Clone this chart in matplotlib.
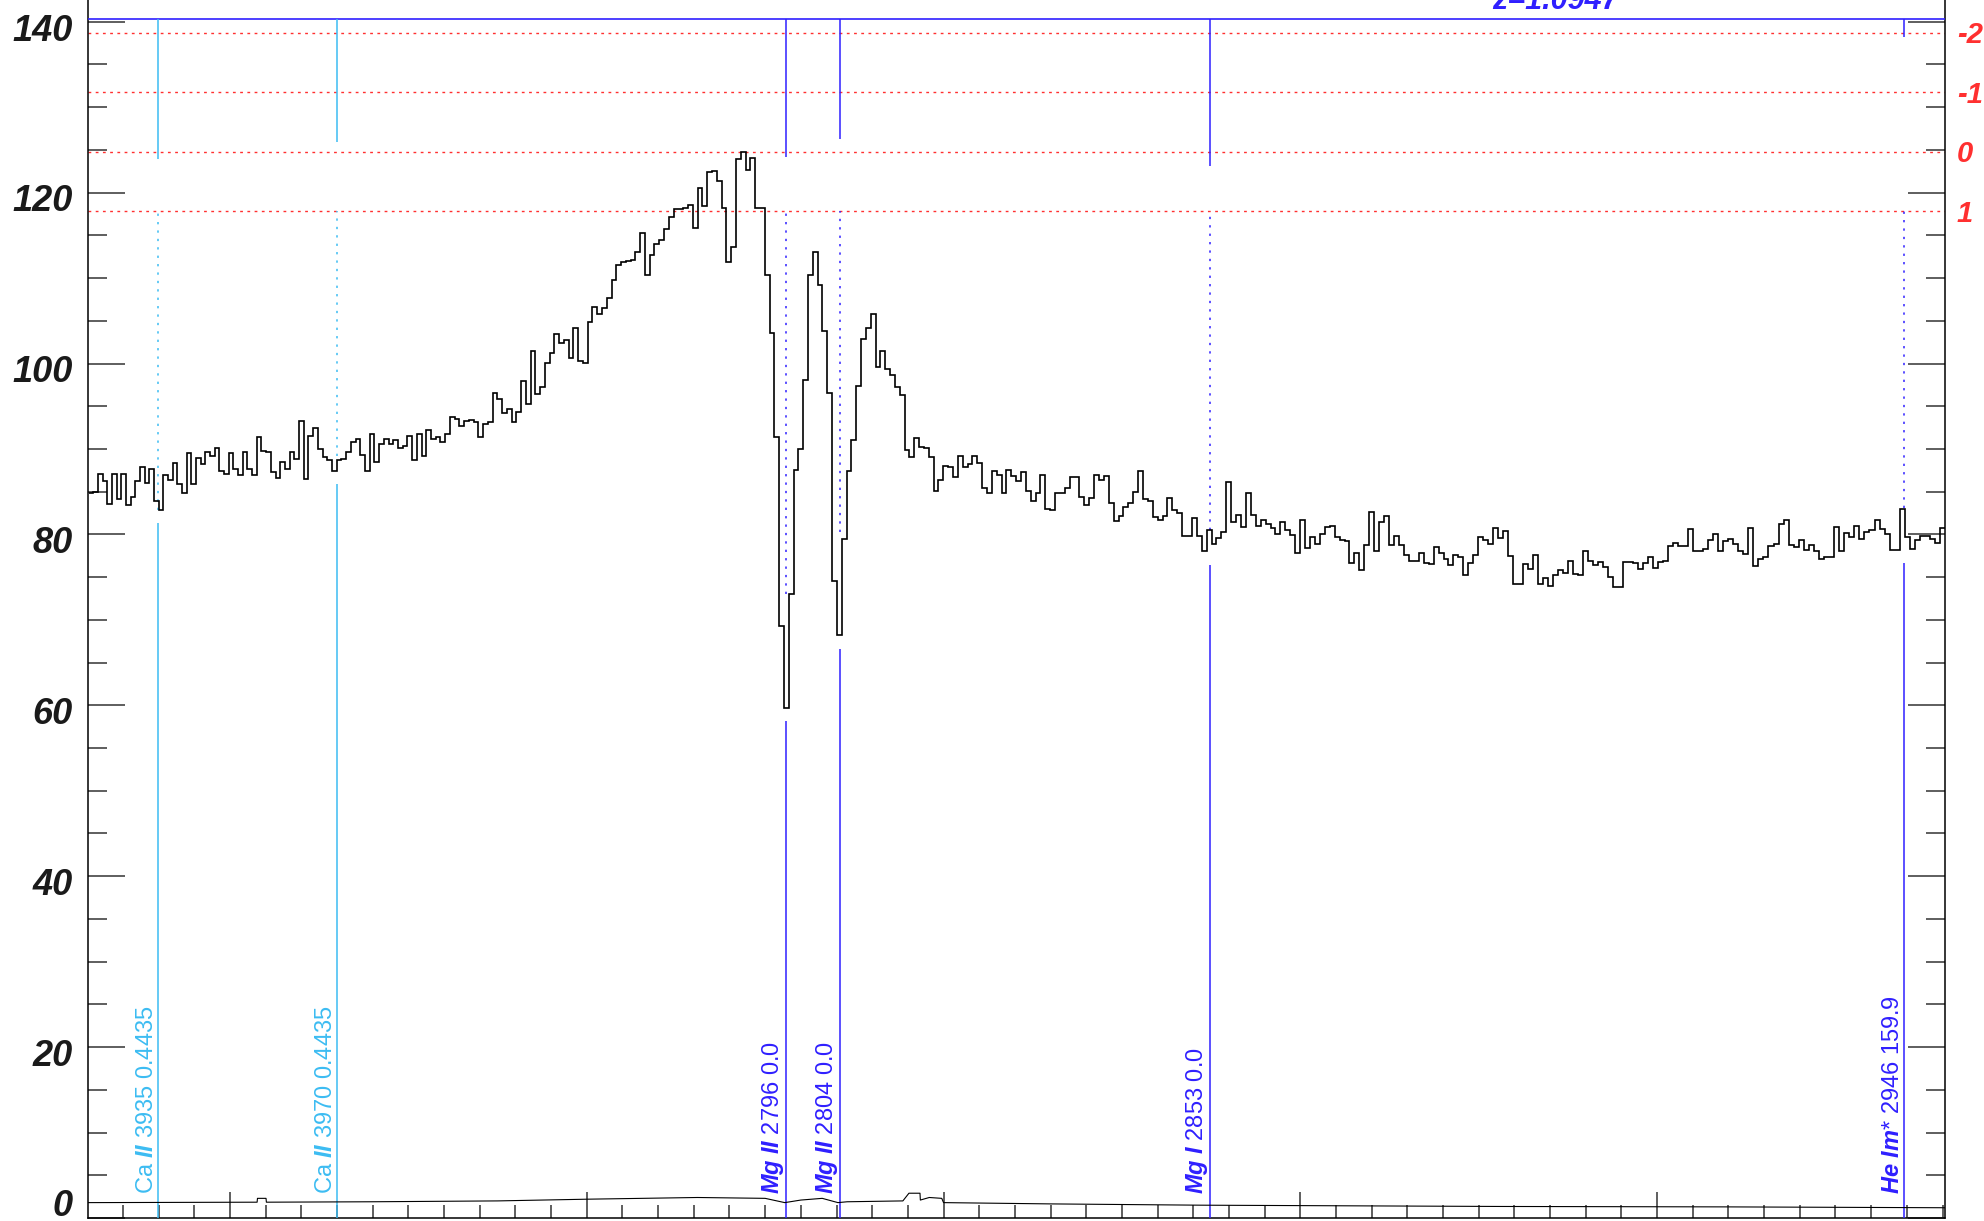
import numpy as np
import matplotlib
matplotlib.use("Agg")
import matplotlib.pyplot as plt
from matplotlib.ticker import MultipleLocator
import matplotlib.transforms as mtransforms

plt.rcParams['font.family'] = ['Liberation Sans', 'DejaVu Sans']
plt.rcParams['mathtext.fontset'] = 'custom'
plt.rcParams['mathtext.rm'] = 'Liberation Sans'
plt.rcParams['mathtext.it'] = 'Liberation Sans:italic'
plt.rcParams['mathtext.bf'] = 'Liberation Sans:bold'
try:
    plt.rcParams['mathtext.bfit'] = 'Liberation Sans:italic:bold'
    BFIT = r'\mathbfit'
except KeyError:
    BFIT = r'\mathit'

# ---------------- data ----------------
wl_start = 5660.4      # first bin edge (Angstrom)
dlog = 1e-4            # log10 bin width

flux_a = [84.8, 85.0, 87.1, 86.2, 83.5, 87.1, 84.2, 87.1, 83.4, 84.4,
          86.2, 87.9, 86.0, 87.7, 83.9, 82.9, 86.9, 86.4, 88.4, 85.9,
          84.9, 89.5, 85.9, 88.9, 88.2, 89.7, 89.2, 90.1, 87.4, 87.1,
          89.5, 87.7, 86.9, 89.7, 87.7, 86.9, 91.4, 89.8, 89.7, 87.3,
          86.6, 88.5, 87.7, 89.7, 88.8, 93.3, 86.5, 91.5, 92.4, 90.0,
          89.0, 88.7, 87.4, 88.7, 88.8, 89.7, 90.8, 91.2, 89.3, 87.4,
          91.8, 88.5, 90.6, 91.2, 90.6, 91.0, 90.1, 90.4, 91.5, 88.7,
          91.7, 89.2, 92.2, 91.2, 91.4, 90.8, 91.7, 93.7, 93.5, 92.7,
          93.3, 93.4]
flux_b = [93.2, 91.4, 92.9, 93.1, 96.5, 95.8, 94.2, 94.7, 93.2, 94.3,
          98.0, 95.3, 101.5, 96.4, 97.3, 100.1, 101.2, 103.4, 102.4, 102.8,
          100.6, 104.2, 100.3, 100.1, 104.9, 106.6, 105.8, 106.5, 107.7, 109.8,
          111.5, 111.9, 112.0, 112.1, 113.1, 115.3, 110.3, 112.7, 114.0, 114.4,
          115.7, 117.2, 118.1, 118.1, 118.2, 118.6, 115.8, 120.5, 118.4, 122.4,
          122.5, 121.3, 118.2, 111.9, 113.6, 123.9, 124.8, 122.7, 124.0, 118.2,
          118.2, 110.4, 103.6, 91.4, 69.3, 59.7, 73.0, 87.5, 90.0, 98.1,
          110.3, 113.1, 109.2, 103.8, 96.6, 74.5, 68.2]
flux_c = [79.5, 87.4, 91.1, 97.4, 102.9, 104.1, 105.8, 99.6, 101.5, 99.3,
          98.7, 97.2, 96.3, 89.9, 89.1, 91.3, 90.2, 90.1, 89.0, 85.1,
          86.4, 88.0, 87.9, 86.7, 89.2, 87.9, 88.2, 89.2, 88.3, 85.4,
          84.9, 87.4, 87.0, 84.9, 87.5, 86.8, 86.2, 87.3, 85.1, 83.9,
          84.9, 86.9, 83.0, 82.8, 84.9, 84.8, 85.4, 86.7, 86.7, 84.4,
          83.4, 84.3, 86.9, 86.4, 86.8, 83.7, 81.6, 82.1, 83.2, 83.7,
          85.0, 87.4, 84.1, 83.9, 82.0, 81.7, 82.1, 84.3, 82.8, 82.5,
          79.8, 79.8, 81.9, 79.8, 78.0, 80.5, 78.9, 79.6, 80.3]
flux_d = [86.1, 81.5, 82.3, 80.9, 84.9, 82.3, 81.0, 81.7, 81.2, 80.7,
          80.1, 81.5, 80.5, 79.9, 77.8, 81.7, 78.4, 79.7, 78.9, 80.0,
          80.9, 81.0, 79.7, 79.4, 79.2, 76.6, 77.8, 75.8, 78.8, 82.6,
          78.1, 81.5, 82.1, 78.8, 79.8, 78.8, 77.6, 76.9, 76.9, 77.8,
          76.7, 76.5, 78.5, 77.8, 77.1, 76.4, 77.6, 77.4, 75.3, 76.7,
          77.6, 79.7, 79.4, 78.9, 80.7, 79.6, 80.4, 77.5, 74.2, 74.2,
          76.5, 75.9, 77.6, 74.2, 74.9, 74.0, 75.3, 75.8, 75.5, 76.9,
          75.4, 75.3, 78.0]
flux_e = [76.9, 76.4, 76.8, 76.2, 75.0, 73.9, 73.9, 76.8, 76.8, 76.6,
          75.9, 76.6, 77.4, 76.1, 76.8, 76.9, 78.6, 79.0, 78.6, 78.6,
          80.6, 78.1, 78.1, 78.3, 79.3, 80.0, 78.0, 79.2, 79.5, 78.9,
          78.0, 77.7, 80.7, 76.3, 77.1, 77.4, 78.7, 78.9, 81.2, 81.7,
          78.8, 78.5, 79.3, 78.2, 78.8, 78.0, 77.1, 77.4, 77.4, 80.9,
          78.0, 80.2, 79.7, 81.0, 79.5, 80.3, 80.5, 81.7, 80.6, 80.1,
          78.2, 78.2, 83.0, 79.7, 78.3, 79.3, 79.8, 79.8, 79.5, 79.0,
          80.7]

err_wl = [5660.2, 5707.6, 5707.7, 5710.1, 5710.2, 5740.0, 5775.0, 5800.0, 5831.0,
          5850.0, 5855.5, 5860.0, 5866.0, 5870.4, 5873.0, 5888.6, 5890.3, 5893.4,
          5893.5, 5896.0, 5899.5, 5900.0, 5930.0, 5972.0, 6056.0, 6120.0, 6180.7]
err_val = [1.8, 1.85, 2.3, 2.3, 1.85, 1.9, 2.0, 2.2, 2.4,
           2.3, 1.8, 2.1, 2.3, 1.8, 1.9, 2.0, 2.9, 2.9,
           2.1, 2.4, 2.3, 1.8, 1.65, 1.5, 1.35, 1.3, 1.2]

sigma_levels = [138.7, 131.75, 124.8, 117.85]
sigma_labels = ['-2', '-1', '0', '1']

line_wl = [5679.7, 5730.1, 5855.9, 5871.0, 5974.7, 6169.3]
line_names = ['Ca II', 'Ca II', 'Mg II', 'Mg II', 'Mg I', 'He Im*']
line_rest = ['3935', '3970', '2796', '2804', '2853', '2946']
line_zval = ['0.4435', '0.4435', '0.0', '0.0', '0.0', '159.9']
line_system = ['ca', 'ca', 'mg', 'mg', 'mg', 'mg']
line_top_end = [123.9, 125.9, 124.2, 126.3, 123.1, 138.2]
line_dot_start = [117.85, 117.85, 117.85, 117.85, 117.85, 117.85]
line_dot_end = [82.8, 89.2, 73.0, 80.3, 80.5, 83.1]
line_low_start = [81.3, 85.9, 58.2, 66.6, 76.4, 76.7]

top_marker_level = 140.35
z_text = 'z=1.0947'
z_text_wl = 6071.4

ytick_vals = [0, 20, 40, 60, 80, 100, 120, 140]

# ---------------- figure ----------------
W, H = 1984, 1221
fig = plt.figure(figsize=(W / 100, H / 100), dpi=100)
ax_left, ax_right, ax_bottom = 88, 1945, 1218
ymax = 145.0
px_per_unit = 8.545
ax_h_px = ymax * px_per_unit
ax = fig.add_axes([ax_left / W, (H - ax_bottom) / H, (ax_right - ax_left) / W, ax_h_px / H])
ax.set_xlim(5660.2, 6180.7)
ax.set_ylim(0, ymax)

flux = np.concatenate([flux_a, flux_b, flux_c, flux_d, flux_e])
edges = wl_start * 10 ** (dlog * np.arange(len(flux) + 1))
ax.stairs(flux, edges, baseline=None, color='black', lw=1.2, zorder=5)

ax.plot(err_wl, err_val, color='black', lw=0.8, zorder=5)

red = '#ff3030'
for lev in sigma_levels:
    ax.axhline(lev, color=red, lw=1.0, linestyle=(0, (2, 3.2)), zorder=2)

blue = '#2f1fff'
cyan = '#3cbcf2'
ax.axhline(top_marker_level, color=blue, lw=1.2, zorder=3)

colors = {'ca': cyan, 'mg': blue}
for i, wl in enumerate(line_wl):
    c = colors[line_system[i]]
    ax.vlines(wl, line_top_end[i], top_marker_level, color=c, lw=1.1, zorder=3)
    ax.vlines(wl, line_dot_end[i], line_dot_start[i], color=c, lw=1.1,
              linestyle=(0, (1.5, 4)), zorder=3)
    ax.vlines(wl, 0, line_low_start[i], color=c, lw=1.1, zorder=3)
    nm = line_names[i].replace(' ', r'\ ')
    if line_system[i] == 'ca':
        el, ion = line_names[i].split(' ')
        lab = el + r' $' + BFIT + '{' + ion + '}$ ' + line_rest[i] + ' ' + line_zval[i]
    else:
        lab = r'$' + BFIT + '{' + nm.replace('*', '') + '}$' + ('*' if '*' in nm else '') + ' ' + line_rest[i] + ' ' + line_zval[i]
    ax.text(wl, 2.8, lab, rotation=90, ha='right', va='bottom', color=c,
            fontsize=17, zorder=6)

# z label (cut at top of figure, as in the reference)
ax.text(z_text_wl, 141.5, z_text, ha='center', va='baseline', color=blue,
        fontsize=22, fontweight='bold', fontstyle='italic')

# y tick labels (manual)
trans = mtransforms.blended_transform_factory(ax.transAxes, ax.transData)
dx_lab = -15 / (ax_right - ax_left)
for v in ytick_vals:
    if v > 0:
        ax.text(dx_lab, v - 1.1, str(v), transform=trans, ha='right', va='center',
                fontsize=26, fontweight='bold', fontstyle='italic', color='#1a1a1a')
    else:
        ax.text(dx_lab, 0.25, str(v), transform=trans, ha='right', va='baseline',
                fontsize=26, fontweight='bold', fontstyle='italic', color='#1a1a1a')

# right-hand sigma labels
dx_r = 1 + 12 / (ax_right - ax_left)
for lev, lab in zip(sigma_levels, sigma_labels):
    ax.text(dx_r, lev - 0.3, lab, transform=trans, ha='left', va='center',
            fontsize=21, fontweight='bold', fontstyle='italic', color=red)

# ticks
ax.yaxis.set_major_locator(MultipleLocator(20))
ax.yaxis.set_minor_locator(MultipleLocator(5))
ax.xaxis.set_major_locator(MultipleLocator(100))
ax.xaxis.set_minor_locator(MultipleLocator(10))
ax.tick_params(axis='y', which='major', direction='in', length=26.6, width=1.1,
               left=True, right=True, labelleft=False, labelright=False, color='#333333')
ax.tick_params(axis='y', which='minor', direction='in', length=13.7, width=1.1,
               left=True, right=True, color='#333333')
ax.tick_params(axis='x', which='major', direction='in', length=18.7, width=1.1,
               bottom=True, top=False, labelbottom=False, color='#333333')
ax.tick_params(axis='x', which='minor', direction='in', length=9.4, width=1.1,
               bottom=True, top=False, color='#333333')
ax.spines['top'].set_visible(False)
for s in ['left', 'right', 'bottom']:
    ax.spines[s].set_linewidth(1.1)
    ax.spines[s].set_color('black')

fig.savefig('out.png', dpi=100)
